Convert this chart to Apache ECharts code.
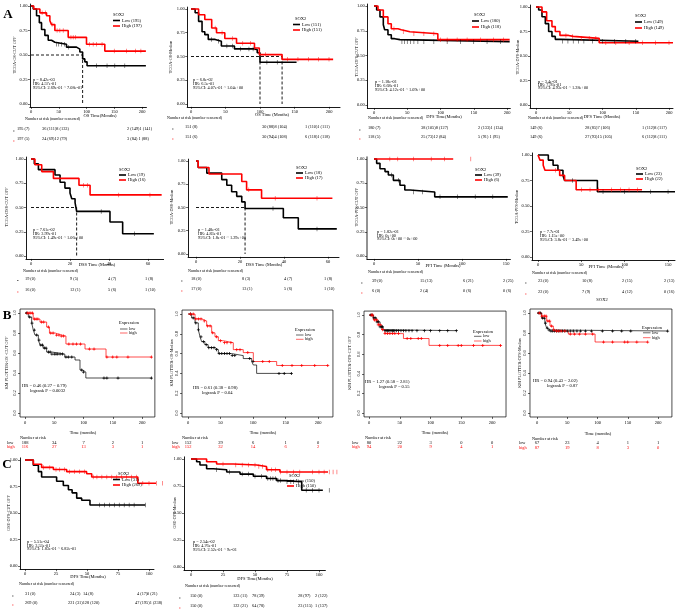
<!DOCTYPE html>
<html><head><meta charset="utf-8">
<script src="https://cdn.jsdelivr.net/npm/echarts@6/dist/echarts.min.js"></script>
<style>html,body{margin:0;padding:0;background:#fff}#c{width:677px;height:612px}</style>
</head><body><div id="c"></div>
<script>
// ================= DATA =================
// Panel A - TCGA
const tcgaYTicks = [0, 0.25, 0.5, 0.75, 1];
const tick200 = [0, 50, 100, 150, 200];
const tick150 = [0, 50, 100, 150];
const tick60 = [0, 20, 40, 60];
const tick100 = [0, 25, 50, 75, 100];
const kmYTicks = [0, 0.2, 0.4, 0.6, 0.8, 1];

const osCutLow = [[0,1],[4,0.97],[10,0.9],[15,0.83],[19,0.76],[25,0.7],[31,0.65],[37,0.63],[43,0.61],[64,0.58],[82,0.56],[88,0.53],[93,0.46],[97,0.43],[101,0.39],[207,0.39]];
const osCutHigh = [[0,1],[5,0.97],[16,0.93],[28,0.9],[34,0.85],[37,0.81],[43,0.75],[67,0.68],[100,0.61],[133,0.54],[207,0.54]];
const osCutLowCens = [46,50,55,60,68,118,137,151,169];
const osCutHighCens = [20,26,38,47,52,58,72,76,80,105,112,118,128,150,172,188,198];
const osCutMedian = [93];
const osCutStats = ["p = 8.42e-03", "HR: 4.57e-01", "95%CI: 2.69e-01 ~ 7.08e-01"];
const osCutLegend = ["Low (195)", "High (197)"];
const osCutRiskLow = ["195 (7)", "36 (111)8 (133)", "2 (149)1 (141)"];
const osCutRiskHigh = ["197 (5)", "24 (69)12 (79)", "3 (84) 1 (88)"];

const osMedLow = [[0,1],[6,0.96],[11,0.87],[16,0.76],[20,0.73],[25,0.68],[35,0.66],[44,0.61],[63,0.58],[92,0.57],[96,0.54],[100,0.44],[153,0.44]];
const osMedHigh = [[0,1],[11,0.94],[20,0.89],[30,0.8],[37,0.75],[49,0.69],[66,0.64],[92,0.59],[99,0.52],[132,0.47],[206,0.47]];
const osMedLowCens = [30,40,52,60,72,84,90,110,125];
const osMedHighCens = [35,45,60,75,86,92,108,140,155,170,185,200];
const osMedMedian = [100, 132];
const osMedStats = ["p = 6.8e-02", "HR: 6.5e-01", "95%CI: 4.07e-01 ~ 1.04e+00"];
const osMedLegend = ["Low (151)", "High (151)"];
const osMedRiskLow = ["151 (8)", "30 (88)8 (104)", "1 (110)1 (111)"];
const osMedRiskHigh = ["151 (6)", "30 (94)4 (108)", "6 (118)1 (118)"];

const dfsCutLow = [[0,1],[4,0.96],[9,0.89],[14,0.81],[16,0.76],[21,0.71],[26,0.67],[31,0.66],[39,0.64],[204,0.64]];
const dfsCutHigh = [[0,1],[6,0.96],[14,0.89],[21,0.82],[26,0.77],[36,0.76],[41,0.74],[54,0.72],[96,0.66],[204,0.66]];
const dfsCutLowCens = [42,46,50,55,60,66,75,90,110,130,150,170,190];
const dfsCutHighCens = [30,44,60,75,90,100,110,125,140,160,180,195];
const dfsCutStats = ["p = 1.18e-01", "HR: 6.68e-01", "95%CI: 4.12e-01 ~ 1.09e+00"];
const dfsCutLegend = ["Low (180)", "High (118)"];
const dfsCutRiskLow = ["180 (7)", "38 (105)8 (127)", "2 (133)1 (134)"];
const dfsCutRiskHigh = ["118 (5)", "25 (73)12 (84)", "5 (91) 1 (95)"];

const dfsMedLow = [[0,1],[4,0.97],[9,0.9],[14,0.83],[19,0.75],[24,0.7],[29,0.67],[36,0.65],[154,0.65]];
const dfsMedHigh = [[0,1],[9,0.95],[16,0.86],[24,0.8],[29,0.75],[36,0.71],[49,0.7],[56,0.68],[95,0.635],[206,0.635]];
const dfsMedLowCens = [40,48,56,64,72,85,100,118,135,150];
const dfsMedHighCens = [45,55,68,80,90,105,120,140,160,180,200];
const dfsMedStats = ["p = 3.4e-01", "HR: 7.93e-01", "95%CI: 4.93e-01 ~ 1.28e+00"];
const dfsMedLegend = ["Low (149)", "High (149)"];
const dfsMedRiskLow = ["149 (6)", "28 (85)7 (106)", "1 (112)8 (117)"];
const dfsMedRiskHigh = ["149 (6)", "27 (93)15 (105)", "6 (112)8 (111)"];

const dssCutLow = [[0,1],[1.7,0.95],[3.8,0.89],[12.3,0.835],[14.9,0.76],[17.4,0.7],[20,0.65],[20.9,0.59],[22.6,0.55],[23.4,0.46],[40.5,0.35],[47,0.23],[63,0.23]];
const dssCutHigh = [[0,1],[2,0.94],[5.5,0.87],[11.5,0.8],[24.6,0.73],[30.3,0.63],[67,0.63]];
const dssCutLowCens = [36,53];
const dssCutHighCens = [27,29,45,61];
const dssCutMedian = [23.4];
const dssCutStats = ["p = 7.61e-02", "HR: 3.99e-01", "95%CI: 1.49e-01 ~ 1.06e+00"];
const dssCutLegend = ["Low (19)", "High (16)"];
const dssCutRiskLow = ["19 (0)", "9 (5)", "4 (7)", "1 (8)"];
const dssCutRiskHigh = ["16 (0)", "12 (1)", "5 (6)", "1 (10)"];

const dssMedLow = [[0,1],[1,0.93],[4.9,0.87],[11.7,0.8],[14,0.74],[16.2,0.67],[18.5,0.62],[20.8,0.56],[22.3,0.49],[39.7,0.39],[46.5,0.27],[64,0.27]];
const dssMedHigh = [[0,1],[1,0.93],[5.9,0.86],[20.8,0.78],[23,0.69],[29.8,0.6],[62,0.6]];
const dssMedLowCens = [35,55];
const dssMedHighCens = [24,36,55];
const dssMedMedian = [22.3];
const dssMedStats = ["p = 1.48e-01", "HR: 4.83e-01", "95%CI: 1.8e-01 ~ 1.29e+00"];
const dssMedLegend = ["Low (18)", "High (17)"];
const dssMedRiskLow = ["18 (0)", "8 (3)", "4 (7)", "1 (8)"];
const dssMedRiskHigh = ["17 (0)", "13 (1)", "5 (6)", "1 (10)"];

const pfsCutLow = [[0,1],[3,0.955],[6.8,0.9],[12.5,0.87],[16.3,0.835],[22,0.78],[29.5,0.73],[35,0.68],[41,0.66],[69,0.61],[152,0.61]];
const pfsCutHigh = [[0,1],[90,1]];
const pfsCutLowCens = [20,28,45,55,75,95,115,135];
const pfsCutHighCens = [18,27,45,65,80,110];
const pfsCutStats = ["p = 1.82e-01", "HR: 0e+00", "95%CI: 0e+00 ~ 0e+00"];
const pfsCutLegend = ["Low (39)", "High (6)"];
const pfsCutRiskLow = ["39 (0)", "15 (13)", "6 (21)", "2 (25)"];
const pfsCutRiskHigh = ["6 (0)", "2 (4)", "0 (6)", "0 (6)"];

const pfsMedLow = [[0,1],[11.9,0.95],[17.4,0.9],[23,0.85],[28.8,0.8],[30.7,0.75],[68.5,0.64],[158,0.64]];
const pfsMedHigh = [[0,1],[2.3,0.95],[6,0.9],[8,0.85],[25,0.8],[30.7,0.75],[44,0.66],[120,0.66]];
const pfsMedLowCens = [40,75,100,130,150];
const pfsMedHighCens = [20,50,60,70,85,95,105,115];
const pfsMedStats = ["p = 7.7e-01", "HR: 1.15e+00", "95%CI: 3.8e-01 ~ 3.49e+00"];
const pfsMedLegend = ["Low (23)", "High (22)"];
const pfsMedRiskLow = ["23 (0)", "10 (8)", "2 (15)", "2 (13)"];
const pfsMedRiskHigh = ["22 (0)", "7 (9)", "4 (12)", "0 (16)"];

// Panel B - KM plotter
const kmOsCutLow = [[0,1],[5.7,0.96],[11.4,0.9],[14.2,0.83],[17,0.78],[22.8,0.73],[25.6,0.68],[31,0.65],[37,0.61],[45.6,0.59],[68,0.56],[85.5,0.53],[94,0.43],[98.6,0.41],[104,0.35],[216,0.35]];
const kmOsCutHigh = [[0,1],[14,0.94],[25.6,0.91],[37,0.86],[41.8,0.8],[51.5,0.78],[62,0.77],[70,0.69],[102.6,0.64],[138.5,0.56],[216,0.56]];
const kmOsCutLowCens = [3,8,12,16,20,24,27,30,33,36,40,43,46,50,53,56,60,64,70,74,80,97,100,135,140,159,216];
const kmOsCutHighCens = [4,7,10,13,16,19,22,28,32,40,44,48,54,58,62,66,75,82,88,95,110,118,140,150,157,176,216];
const kmOsCutHR = ["HR = 0.46 (0.27 \u2212 0.79)", "logrank P = 0.0032"];
const kmOsCutRiskLow = ["188", "34", "7", "2", "1"];
const kmOsCutRiskHigh = ["116", "27", "13", "3", "1"];

const kmOsMedLow = [[0,1],[5.6,0.96],[10.8,0.91],[15.9,0.84],[18.5,0.77],[21,0.72],[26,0.69],[31,0.66],[41.5,0.64],[46.7,0.6],[67,0.58],[85,0.55],[98,0.52],[100.5,0.485],[105.6,0.4],[159.5,0.4]];
const kmOsMedHigh = [[0,1],[10.8,0.95],[21,0.93],[28.7,0.88],[36.4,0.81],[41.5,0.77],[46.7,0.73],[54.4,0.71],[69.7,0.64],[85,0.61],[100.5,0.52],[136.4,0.48],[215,0.48]];
const kmOsMedLowCens = [4,8,12,16,20,24,28,32,36,40,44,48,52,56,60,64,68,72,95,100,140,148,159];
const kmOsMedHighCens = [4,8,12,16,20,25,30,34,38,44,50,56,60,66,75,80,92,115,125,145,160,175,195,215];
const kmOsMedHR = ["HR = 0.61 (0.38 \u2212 0.98)", "logrank P = 0.04"];
const kmOsMedRiskLow = ["152", "29", "6", "1", "0"];
const kmOsMedRiskHigh = ["152", "32", "14", "6", "2"];

const kmDfsCutLow = [[0,1],[7,0.97],[12.5,0.93],[18,0.88],[23,0.85],[26,0.84],[142.6,0.84]];
const kmDfsCutHigh = [[0,1],[7,0.95],[15,0.9],[20.6,0.85],[26,0.81],[56,0.76],[97.6,0.69],[214.6,0.69]];
const kmDfsCutLowCens = [3,5,8,10,13,15,18,20,22,26,28,30,32,34,36,38,40,42,45,48,52,56,60,65,70,78,90,100,115,128,142];
const kmDfsCutHighCens = [4,6,9,12,15,18,22,26,30,34,38,42,48,62,68,80,85,115,128,145,150,170,185,214];
const kmDfsCutHR = ["HR = 1.27 (0.58 \u2212 2.81)", "logrank P = 0.55"];
const kmDfsCutRiskLow = ["80", "22", "3", "0", "0"];
const kmDfsCutRiskHigh = ["94", "20", "9", "4", "1"];

const kmDfsMedLow = [[0,1],[7.7,0.95],[13,0.9],[16,0.85],[18.7,0.83],[22,0.82],[216,0.82]];
const kmDfsMedHigh = [[0,1],[7.7,0.97],[16,0.92],[21.5,0.87],[27,0.83],[29.8,0.82],[51.8,0.79],[96,0.71],[183,0.71]];
const kmDfsMedLowCens = [3,6,9,12,14,17,20,23,26,29,32,35,38,42,46,50,55,60,66,72,80,90,108,125,140,155,216];
const kmDfsMedHighCens = [4,8,12,15,18,21,24,28,32,36,40,46,55,62,70,80,92,110,125,145,150,165,183];
const kmDfsMedHR = ["HR = 0.94 (0.43 \u2212 2.02)", "logrank P = 0.87"];
const kmDfsMedRiskLow = ["67", "23", "4", "1", "1"];
const kmDfsMedRiskHigh = ["87", "19", "8", "3", "0"];

// Panel C - GSE
const gseCutLow = [[0,1],[6.7,0.95],[10.8,0.89],[13.4,0.84],[25.5,0.8],[30.9,0.76],[35,0.72],[38,0.69],[41.7,0.64],[45.7,0.62],[52.4,0.575],[97,0.575]];
const gseCutHigh = [[0,1],[6.7,0.96],[13.4,0.93],[22.9,0.91],[33.6,0.89],[49.7,0.87],[53.8,0.84],[91,0.78],[111,0.78]];
const gseCutLowCens = [60,64,68,72,76,80,84,88,97];
const gseCutHighCens = [15,20,25,28,32,36,40,44,48,55,58,62,66,70,74,78,82,86,90,95,100,106,111];
const gseCutStats = ["p = 5.51e-04", "HR: 3.53e-01", "95%CI: 1.83e-01 ~ 6.82e-01"];
const gseCutLegend = ["Low (31)", "High (269)"];
const gseCutRiskLow = ["31 (0)", "24 (3)", "14 (8)", "4 (17)", "0 (21)"];
const gseCutRiskHigh = ["269 (0)", "221 (31)128 (120)", "47 (195)1 (238)"];

const gseMedLow = [[0,1],[4.4,0.975],[7,0.944],[12.2,0.91],[17.4,0.9],[27.9,0.88],[38.3,0.86],[48.7,0.84],[59,0.82],[67,0.8],[73.4,0.79],[86.5,0.71],[103,0.71]];
const gseMedHigh = [[0,1],[12.2,0.975],[20,0.954],[33,0.944],[51.3,0.93],[59,0.9],[69.5,0.88],[114,0.88]];
const gseMedLowCens = [20,30,40,45,50,55,60,62,64,66,68,70,75,78,80,84,90,95,100,108];
const gseMedHighCens = [25,35,40,45,50,53,56,60,63,66,70,75,80,85,95,100,104,108,111,114];
const gseMedStats = ["p = 2.54e-02", "HR: 4.76e-01", "95%CI: 2.52e-01 ~ 9e-01"];
const gseMedLegend = ["Low (150)", "High (150)"];
const gseMedRiskLow = ["150 (0)", "123 (11)", "78 (39)", "28 (97)", "2 (122)"];
const gseMedRiskHigh = ["150 (0)", "122 (21)", "64 (78)", "23 (115)", "1 (137)"];

// ================= BUILD =================
const FONT = "'Liberation Serif','Times New Roman',serif";
const RED = '#ff0000';
const PLUS = 'path://M3,0H5V3H8V5H5V8H3V5H0V3H3Z';
const grids = [], xAxes = [], yAxes = [], series = [], graphic = [];

function txt(x, y, s, o) {
  o = o || {};
  graphic.push({type:'text', x:x, y:y, rotation:o.rot || 0, silent:true, z:100,
    style:{text:s, fill:o.color || '#000', fontSize:o.size || 4.5, fontFamily:FONT,
      fontWeight:o.bold ? 'bold' : 'normal', align:o.align || 'left', verticalAlign:'middle'}});
}
function seg(x1, y1, x2, y2, c, w) {
  graphic.push({type:'line', silent:true, z:100, shape:{x1:x1, y1:y1, x2:x2, y2:y2}, style:{stroke:c, lineWidth:w}});
}
function stepAt(curve, t) {
  let s = curve[0][1];
  for (const p of curve) { if (p[0] <= t) s = p[1]; else break; }
  return s;
}

function panel(P) {
  const L = P.L, gi = grids.length, ph = L.y0 - L.y1;
  const box = !!L.box;
  const ymin = L.ymin !== undefined ? L.ymin : -0.03, ymax = L.ymax !== undefined ? L.ymax : 1.02;
  grids.push({left: L.x0 + L.xmin * L.k, top: L.y1 - (ymax - 1) * ph, width: (L.xmax - L.xmin) * L.k,
    height: (ymax - ymin) * ph, show: box, borderColor:'#000', borderWidth:0.7, backgroundColor:'transparent'});
  const labStyle = {fontSize:4.5, fontFamily:FONT, color:'#000'};
  const axW = L.axW || 0.9, axC = L.axC || '#000';
  xAxes.push({type:'value', gridIndex:gi, min:L.xmin, max:L.xmax, splitLine:{show:false},
    axisLine:{show:!box, onZero:false, lineStyle:{color:'#000', width:0.9}},
    axisTick:{show:true, length:2, lineStyle:{color:'#000', width:0.6}, customValues:P.xTicks},
    axisLabel:Object.assign({customValues:P.xTicks, margin: box ? 3 : 2.5}, labStyle)});
  yAxes.push({type:'value', gridIndex:gi, min:ymin, max:ymax, splitLine:{show:false},
    axisLine:{show:!box, onZero:false, lineStyle:{color:axC, width:axW}},
    axisTick:{show:true, length:2, lineStyle:{color:'#000', width:0.6}, customValues:P.yTicks},
    axisLabel:Object.assign({customValues:P.yTicks, margin: box ? 3 : 2.5, rotate: box ? 90 : 0,
      formatter: function (v) { return v.toFixed(box ? 1 : 2); }}, labStyle)});

  const lw = box ? 0.7 : 1.6;
  // median dashed lines
  if (P.median) {
    const mx = Math.max.apply(null, P.median);
    const ds = {type:'line', xAxisIndex:gi, yAxisIndex:gi, symbol:'none', silent:true, clip:false, z:2,
      lineStyle:{color:'#000', width:0.9, type:[3, 2]}};
    series.push(Object.assign({}, ds, {data:[[0, 0.5], [mx, 0.5]]}));
    P.median.forEach(function (m) { series.push(Object.assign({}, ds, {data:[[m, 0.5], [m, 0]]})); });
  }
  [[P.low, P.lowC, '#000'], [P.high, P.highC, RED]].forEach(function (g) {
    series.push({type:'line', xAxisIndex:gi, yAxisIndex:gi, data:g[0], step:'end', symbol:'none', showSymbol:false,
      clip:false, silent:true, z:3, lineStyle:{color:g[2], width:lw}});
    series.push({type:'scatter', xAxisIndex:gi, yAxisIndex:gi, data:g[1].map(function (t) { return [t, stepAt(g[0], t)]; }),
      symbol: box ? PLUS : 'rect', symbolSize: box ? [3, 3] : [0.6, 4.5], itemStyle:{color:g[2], opacity: box ? 1 : 0.75},
      clip:false, silent:true, z:4});
  });

  // texts
  txt(P.yTitle[1], P.yTitle[2], P.yTitle[0], {rot: Math.PI / 2, align:'center', size:4.2});
  txt(P.xTitle[1], P.xTitle[2], P.xTitle[0], {align:'center', size:4.5});
  if (P.stats) P.stats.lines.forEach(function (s, i) { txt(P.stats.x, P.stats.ys[i], s, {size:4.3}); });
  if (P.legend) {
    const G = P.legend;
    txt(G.x + (G.tdx || 0), G.y, 'SOX2');
    seg(G.x, G.y + G.dy, G.x + 7, G.y + G.dy, '#000', 1.6); txt(G.x + 9, G.y + G.dy, G.labels[0]);
    seg(G.x, G.y + 2 * G.dy, G.x + 7, G.y + 2 * G.dy, RED, 1.6); txt(G.x + 9, G.y + 2 * G.dy, G.labels[1]);
  }
  if (P.kmLegend) {
    const G = P.kmLegend;
    txt(G.x, G.y, 'Expression', {size:4.5});
    seg(G.x + 1, G.y + G.d1, G.x + 8.5, G.y + G.d1, '#000', 0.6); txt(G.x + 10, G.y + G.d1, 'low', {size:4.3});
    seg(G.x + 1, G.y + G.d2, G.x + 8.5, G.y + G.d2, RED, 0.6); txt(G.x + 10, G.y + G.d2, 'high', {size:4.3});
  }
  if (P.hr) {
    txt(P.hr.x1, P.hr.y1, P.hr.lines[0], {size:4.6});
    txt(P.hr.x2, P.hr.y2, P.hr.lines[1], {size:4.6});
  }
  // risk tables
  const R = P.risk;
  if (R.tcga) {
    txt(R.narX, R.narY, 'Number at risk (number censored)', {size:4});
    R.low.forEach(function (s, i) { txt(R.xsLow[i], R.lowY, s, {size:4.3}); });
    R.high.forEach(function (s, i) { txt(R.xsHigh[i], R.highY, s, {size:4.3}); });
    if (R.stratX !== undefined) {
      seg(R.stratX, R.lowY + 2, R.stratX + 1.5, R.lowY + 2, '#000', 0.6);
      seg(R.stratX, R.highY + 2, R.stratX + 1.5, R.highY + 2, RED, 0.6);
    }
  } else {
    txt(R.narX, R.narY, 'Number at risk', {size:4.3});
    txt(R.labX, R.lowY, 'low', {size:4.3});
    txt(R.labX, R.highY, 'high', {size:4.3, color:RED});
    P.xTicks.forEach(function (t, i) {
      const x = L.x0 + t * L.k;
      txt(x, R.lowY, R.low[i], {size:4.5, align:'center'});
      txt(x, R.highY, R.high[i], {size:4.5, align:'center', color:RED});
    });
  }
}

function tcga(L, xTicks, low, high, lowC, highC, median, yTitle, xTitle, stats, legend, risk) {
  panel({L:L, xTicks:xTicks, yTicks:tcgaYTicks, low:low, high:high, lowC:lowC, highC:highC, median:median,
    yTitle:yTitle, xTitle:xTitle, stats:stats, legend:legend, risk:Object.assign({tcga:true}, risk)});
}
function kmp(L, low, high, lowC, highC, yTitle, xTitle, hr, kmLegend, risk) {
  L.box = true; L.ymin = -0.04; L.ymax = 1.04;
  panel({L:L, xTicks:tick200, yTicks:kmYTicks, low:low, high:high, lowC:lowC, highC:highC,
    yTitle:yTitle, xTitle:xTitle, hr:hr, kmLegend:kmLegend, risk:risk});
}

// ---- Row A1
tcga({x0:31, k:0.555, xmin:-2, xmax:208, y1:6, y0:104}, tick200, osCutLow, osCutHigh, osCutLowCens, osCutHighCens, osCutMedian,
  ['TCGA-OS-CUT OFF', 15, 55], ['OS Time(Months)', 100, 115.5],
  {x:33, ys:[80, 84, 88], lines:osCutStats}, {x:113, y:15, dy:5.5, labels:osCutLegend},
  {narX:25, narY:118.5, lowY:129, highY:139, xsLow:[17, 42, 127], xsHigh:[17, 42, 127], low:osCutRiskLow, high:osCutRiskHigh, stratX:13});
tcga({x0:191, k:0.69, xmin:-5.5, xmax:216, y1:9, y0:104}, tick200, osMedLow, osMedHigh, osMedLowCens, osMedHighCens, osMedMedian,
  ['TCGA-OS-Median', 171, 57], ['OS Time (Months)', 272, 114.5],
  {x:193, ys:[80, 84, 88], lines:osMedStats}, {x:293, y:19, dy:5.5, labels:osMedLegend, tdx:2},
  {narX:167, narY:117.5, lowY:127, highY:137, xsLow:[185, 262, 305], xsHigh:[185, 262, 305], low:osMedRiskLow, high:osMedRiskHigh, stratX:172});
tcga({x0:374, k:0.665, xmin:-10, xmax:205, y1:6, y0:105}, tick200, dfsCutLow, dfsCutHigh, dfsCutLowCens, dfsCutHighCens, null,
  ['TCGA-DFS-CUT OFF', 357, 57], ['DFS Time(Months)', 444, 117],
  {x:375, ys:[82, 86, 90], lines:dfsCutStats}, {x:472, y:15, dy:6, labels:dfsCutLegend, tdx:2},
  {narX:368, narY:117.5, lowY:128, highY:137, xsLow:[368, 421, 478], xsHigh:[368, 421, 478], low:dfsCutRiskLow, high:dfsCutRiskHigh, stratX:359});
tcga({x0:536, k:0.665, xmin:-9, xmax:206, y1:7, y0:105}, tick200, dfsMedLow, dfsMedHigh, dfsMedLowCens, dfsMedHighCens, null,
  ['TCGA-DFS-Median', 518, 57], ['DFS Time (Months)', 602, 117],
  {x:538, ys:[82, 85, 88], lines:dfsMedStats}, {x:635, y:16, dy:6, labels:dfsMedLegend},
  {narX:528, narY:117.5, lowY:128, highY:137, xsLow:[530, 585, 642], xsHigh:[530, 585, 642], low:dfsMedRiskLow, high:dfsMedRiskHigh});

// ---- Row A2
tcga({x0:31, k:1.95, xmin:-2.6, xmax:68, y1:159, y0:256}, tick60, dssCutLow, dssCutHigh, dssCutLowCens, dssCutHighCens, dssCutMedian,
  ['TCGA-DSS-CUT OFF', 7, 207], ['DSS Time (Months)', 97, 264.5],
  {x:33, ys:[230, 234, 238], lines:dssCutStats}, {x:119, y:170, dy:5, labels:dssCutLegend},
  {narX:23, narY:271, lowY:278.5, highY:290, xsLow:[25, 70, 108, 145], xsHigh:[25, 70, 108, 145], low:dssCutRiskLow, high:dssCutRiskHigh, stratX:17});
tcga({x0:196, k:2.2, xmin:-3.6, xmax:65, y1:161, y0:254}, tick60, dssMedLow, dssMedHigh, dssMedLowCens, dssMedHighCens, dssMedMedian,
  ['TCGA-DSS-Median', 172, 207], ['DSS Time (Months)', 264, 264.5],
  {x:198, ys:[230, 234, 238], lines:dssMedStats}, {x:296, y:168, dy:5, labels:dssMedLegend},
  {narX:188, narY:271, lowY:279, highY:289, xsLow:[191, 242, 284, 324], xsHigh:[191, 242, 284, 324], low:dssMedRiskLow, high:dssMedRiskHigh, stratX:181});
tcga({x0:374, k:0.88, xmin:-8, xmax:155, y1:159, y0:256, axW:1.6, axC:'#777'}, tick150, pfsCutLow, pfsCutHigh, pfsCutLowCens, pfsCutHighCens, null,
  ['TCGA-PFS-CUT OFF', 357, 207], ['PFI Time (Months)', 443, 266],
  {x:377, ys:[232, 235.5, 239], lines:pfsCutStats}, {x:475, y:170, dy:5, labels:pfsCutLegend},
  {narX:368, narY:272, lowY:281, highY:291, xsLow:[372, 420, 463, 503], xsHigh:[372, 420, 463, 503], low:pfsCutRiskLow, high:pfsCutRiskHigh, stratX:361});
tcga({x0:538, k:0.867, xmin:-7, xmax:158, y1:155, y0:257}, tick150, pfsMedLow, pfsMedHigh, pfsMedLowCens, pfsMedHighCens, null,
  ['TCGA-PFS-Median', 517, 207], ['PFI Time (Months)', 606, 267],
  {x:540, ys:[232, 236, 240], lines:pfsMedStats}, {x:636, y:169, dy:5, labels:pfsMedLegend},
  {narX:532, narY:273, lowY:281, highY:292, xsLow:[538, 582, 622, 664], xsHigh:[538, 582, 622, 664], low:pfsMedRiskLow, high:pfsMedRiskHigh, stratX:525});
txt(602, 299.5, 'SOX2', {align:'center', size:4.5});

// ---- Row B
kmp({x0:25, k:0.585, xmin:-8.5, xmax:222, y1:313, y0:413}, kmOsCutLow, kmOsCutHigh, kmOsCutLowCens, kmOsCutHighCens,
  ['KM PLOTTER-OS -CUT OFF', 7, 363], ['Time (months)', 83, 433],
  {x1:22, y1:386, x2:30, y2:391, lines:kmOsCutHR}, {x:119, y:323, d1:6, d2:10},
  {narX:20, narY:438, labX:7, lowY:442.5, highY:447, low:kmOsCutRiskLow, high:kmOsCutRiskHigh});
kmp({x0:188, k:0.65, xmin:-9.2, xmax:223, y1:314, y0:413}, kmOsMedLow, kmOsMedHigh, kmOsMedLowCens, kmOsMedHighCens,
  ['KM PLOTTER-OS-Median', 172, 363], ['Time (months)', 263, 433],
  {x1:193, y1:388, x2:202, y2:393, lines:kmOsMedHR}, {x:295, y:330, d1:5, d2:9.3},
  {narX:182, narY:438, labX:172, lowY:442.5, highY:447, low:kmOsMedRiskLow, high:kmOsMedRiskHigh});
kmp({x0:369, k:0.615, xmin:-8.1, xmax:222.8, y1:315, y0:413}, kmDfsCutLow, kmDfsCutHigh, kmDfsCutLowCens, kmDfsCutHighCens,
  ['KM PLOTTER-DFS-CUT OFF', 350, 363], ['Time (months)', 435, 433],
  {x1:365, y1:382, x2:379, y2:386.5, lines:kmDfsCutHR}, {x:473, y:331.5, d1:4.8, d2:9.5},
  {narX:365, narY:438, labX:352, lowY:442.5, highY:447, low:kmDfsCutRiskLow, high:kmDfsCutRiskHigh});
kmp({x0:537, k:0.605, xmin:-11.6, xmax:223, y1:313, y0:413}, kmDfsMedLow, kmDfsMedHigh, kmDfsMedLowCens, kmDfsMedHighCens,
  ['KM PLOTTER-DFS-Median', 520, 363], ['Time (months)', 598, 434],
  {x1:533, y1:381, x2:547, y2:385.5, lines:kmDfsMedHR}, {x:642, y:328, d1:4.8, d2:9.7},
  {narX:532, narY:438.5, labX:519, lowY:443, highY:447.5, low:kmDfsMedRiskLow, high:kmDfsMedRiskHigh});

// ---- Row C
tcga({x0:25, k:1.24, xmin:-4, xmax:104, y1:460, y0:566}, tick100, gseCutLow, gseCutHigh, gseCutLowCens, gseCutHighCens, null,
  ['GSE-DFS-CUT OFF', 9, 513], ['DFS Time(Months)', 88, 577],
  {x:27, ys:[542, 545.5, 549], lines:gseCutStats}, {x:113, y:474, dy:5.5, labels:gseCutLegend, tdx:5},
  {narX:19, narY:584, lowY:594, highY:603, xsLow:[25, 70, 83, 137, 147], xsHigh:[25, 68, 135], low:gseCutRiskLow, high:gseCutRiskHigh, stratX:12});
tcga({x0:191, k:1.28, xmin:-5.5, xmax:105, y1:459, y0:567}, tick100, gseMedLow, gseMedHigh, gseMedLowCens, gseMedHighCens, null,
  ['GSE-DFS-Median', 175, 513], ['DFS Time(Months)', 255, 579],
  {x:193, ys:[542, 546, 550], lines:gseMedStats}, {x:287, y:476, dy:5, labels:gseMedLegend, tdx:2},
  {narX:185, narY:586, lowY:596, highY:606, xsLow:[190, 233, 252, 298, 315], xsHigh:[190, 233, 252, 298, 315], low:gseMedRiskLow, high:gseMedRiskHigh, stratX:179});

// panel letters
txt(8, 15, 'A', {size:13, bold:true, align:'center'});
txt(7, 316, 'B', {size:13, bold:true, align:'center'});
txt(7, 465, 'C', {size:13, bold:true, align:'center'});

const chart = echarts.init(document.getElementById('c'), null, {renderer:'canvas', width:677, height:612});
chart.setOption({animation:false, backgroundColor:'#fff', grid:grids, xAxis:xAxes, yAxis:yAxes, series:series, graphic:graphic});
</script>
</body></html>
